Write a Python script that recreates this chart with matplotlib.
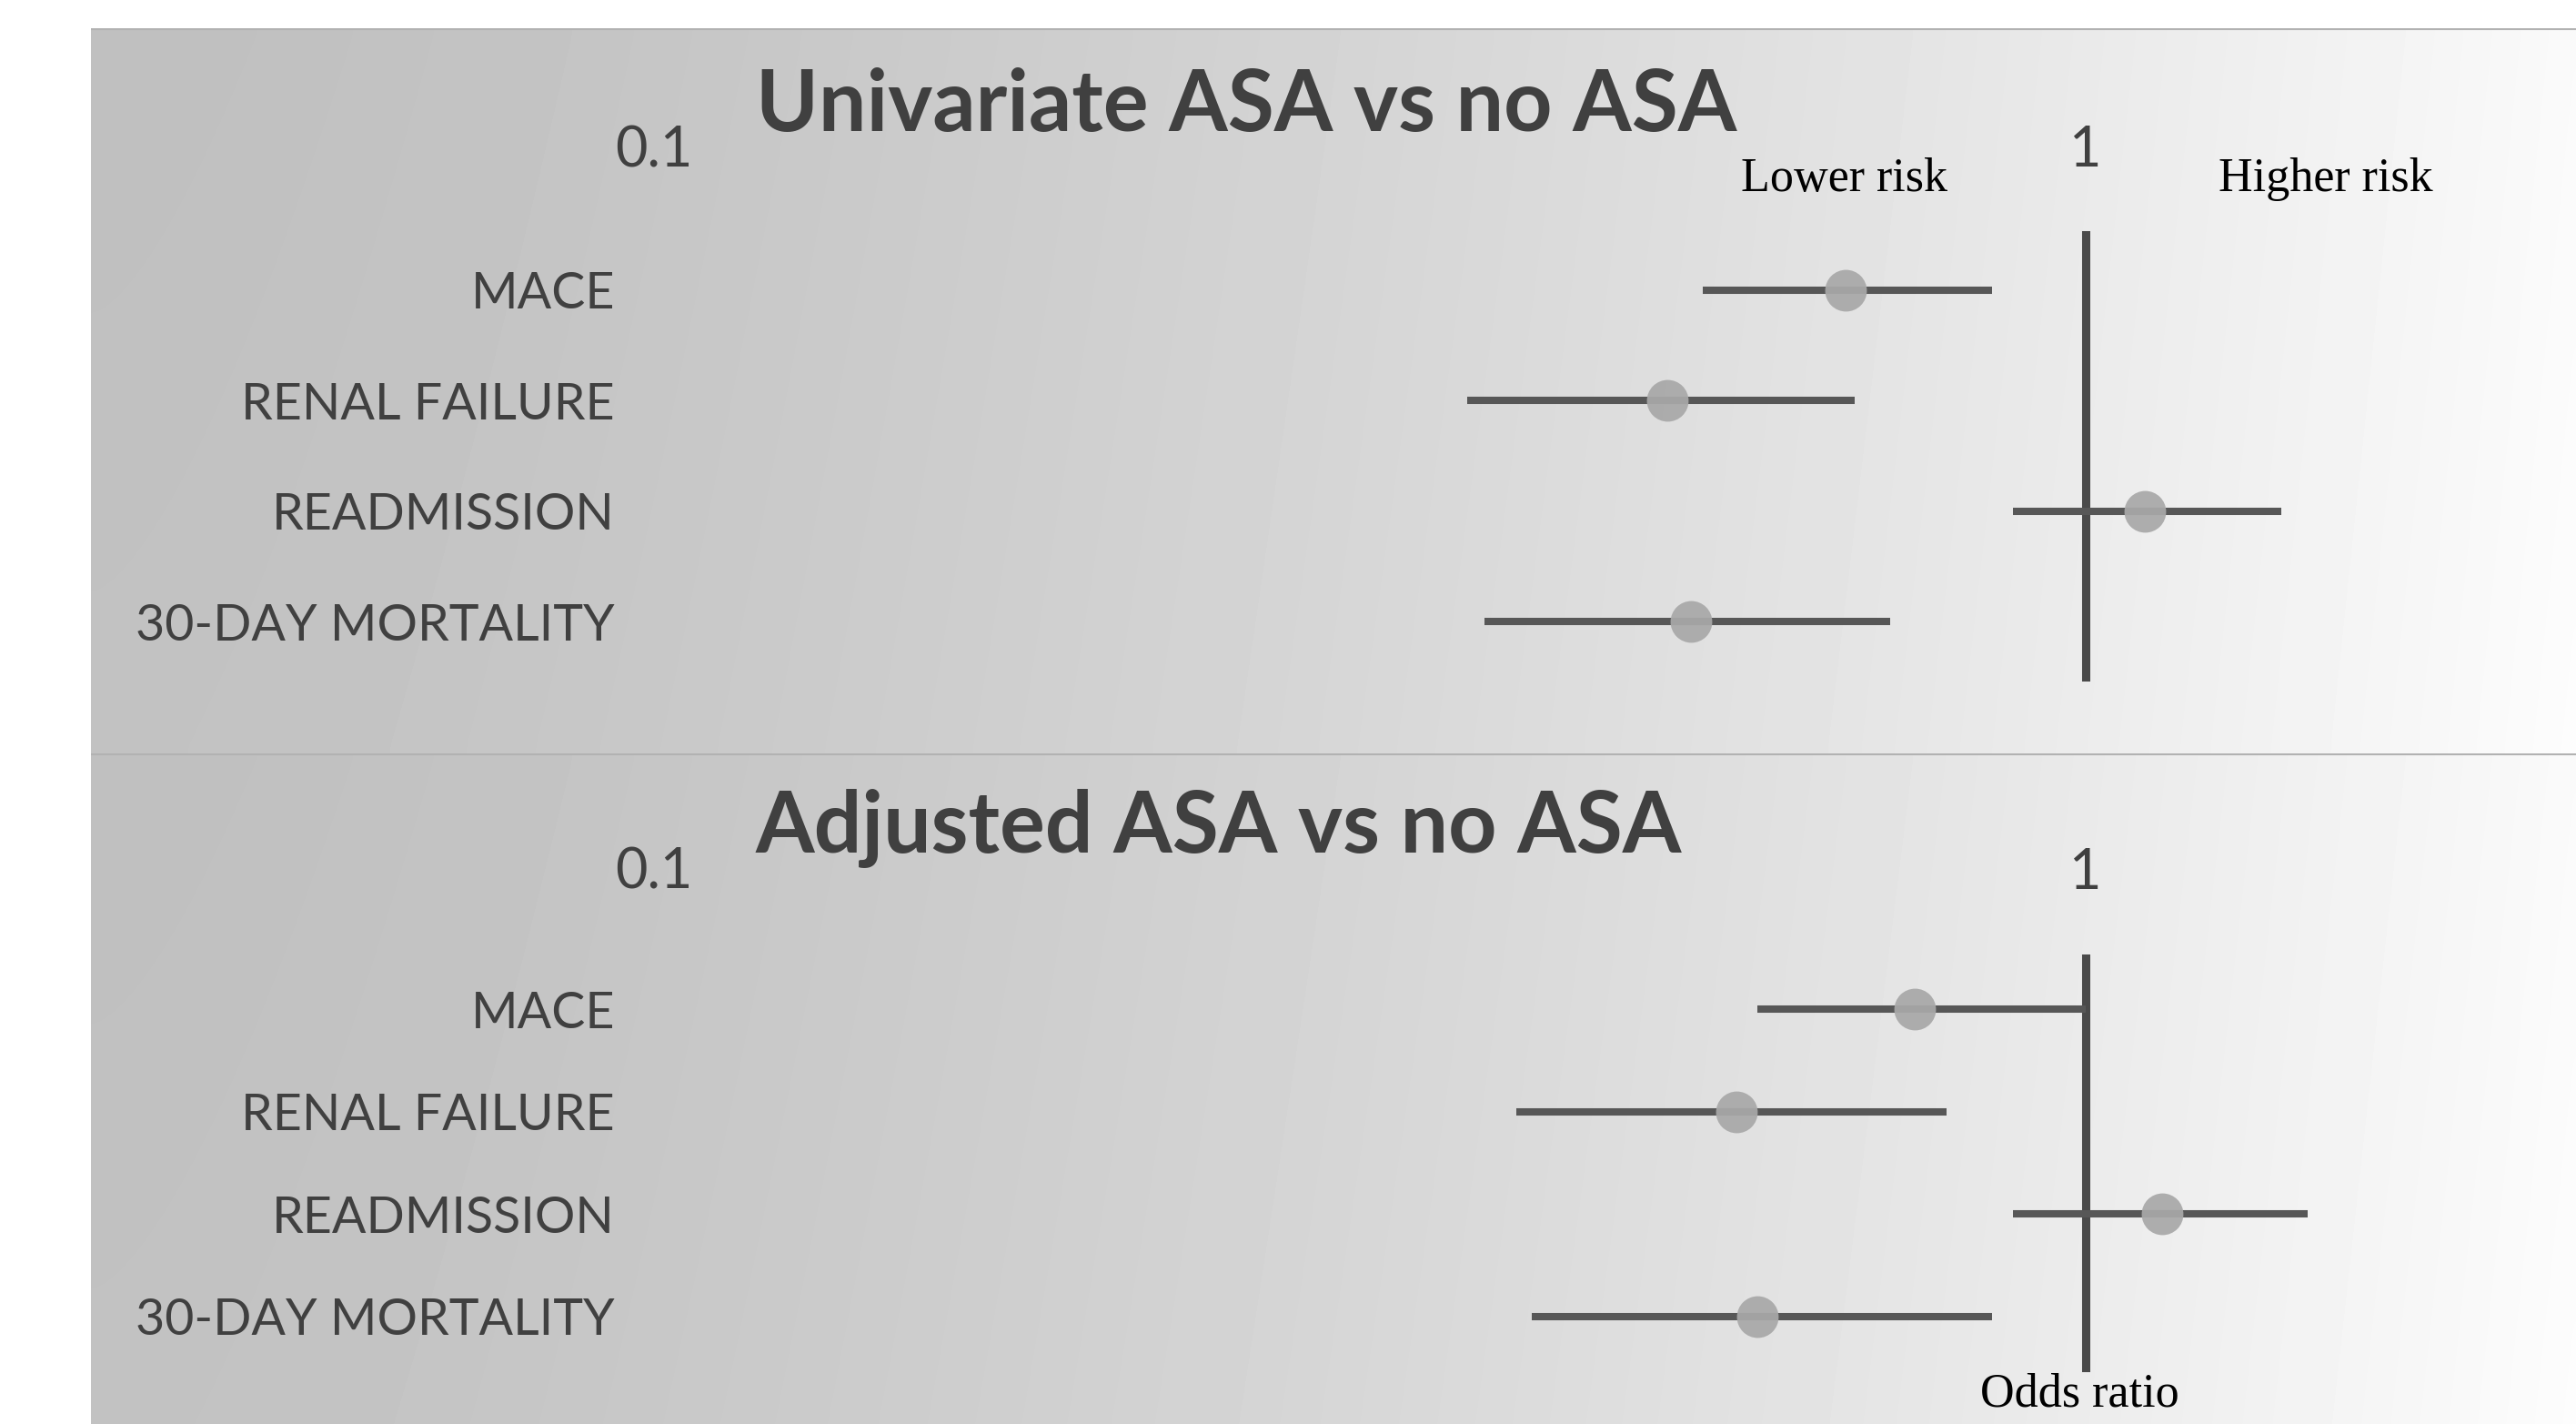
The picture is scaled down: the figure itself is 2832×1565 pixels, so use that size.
import numpy as np
import matplotlib.pyplot as plt
from matplotlib.ticker import NullLocator

# data (odds ratio with 95% CI)
outcomes = ['MACE', 'RENAL FAILURE', 'READMISSION', '30-DAY MORTALITY']

uni_or = [0.68, 0.51, 1.10, 0.53]
uni_lo = [0.54, 0.37, 0.89, 0.38]
uni_hi = [0.86, 0.69, 1.37, 0.73]

adj_or = [0.76, 0.57, 1.13, 0.59]
adj_lo = [0.59, 0.40, 0.89, 0.41]
adj_hi = [1.00, 0.80, 1.43, 0.86]

titles = ['Univariate ASA vs no ASA', 'Adjusted ASA vs no ASA']
xticks = [0.1, 1]
xticklabels = ['0.1', '1']

W, H = 2832, 1565
TXT = '#404040'
LINE = '#575757'
DOT = '#a8a8a8'


def fbox(x0, y0, x1, y1):
    # pixel box (top-left origin) -> figure fraction rect
    return [x0 / W, 1 - y1 / H, (x1 - x0) / W, (y1 - y0) / H]


def background(fig, y0, y1):
    ax = fig.add_axes(fbox(100, y0, W, y1))
    g = np.linspace(0, 1, 600)
    xx, yy = np.meshgrid(g, np.linspace(0, 1, 60))
    v = 0.75 + 0.23 * (xx ** 1.5) + 0.01 * yy
    ax.imshow(v, cmap='gray', vmin=0, vmax=1, aspect='auto',
              extent=[0, 1, 0, 1], interpolation='bicubic')
    ax.axhline(1, color='#b2b2b2', lw=3)
    ax.set_axis_off()


def forest(fig, rect, ors, lo, hi, title, title_y, tick_pad):
    ax = fig.add_axes(rect)
    ax.set_facecolor('none')
    ax.set_xscale('log')
    ax.set_xlim(0.1, 1)
    ax.set_ylim(3.5, -0.5)
    y = np.arange(len(outcomes))
    ax.axvline(1, color='#4a4a4a', lw=6.5, zorder=1, clip_on=False)
    ax.hlines(y, lo, hi, color=LINE, lw=5.8, clip_on=False, zorder=2)
    ax.plot(ors, y, 'o', ms=33, color=DOT, mec='none', alpha=0.93,
            clip_on=False, zorder=3)
    ax.xaxis.tick_top()
    ax.set_xticks(xticks)
    ax.set_xticklabels(xticklabels, family='Lato', fontsize=44, color=TXT)
    ax.xaxis.set_minor_locator(NullLocator())
    ax.set_yticks(y)
    ax.set_yticklabels(outcomes, family='Lato', fontsize=40, color=TXT)
    ax.tick_params(axis='x', length=0, pad=tick_pad)
    ax.tick_params(axis='y', length=0, pad=31)
    for s in ax.spines.values():
        s.set_visible(False)
    fig.text(831 / W, 1 - title_y / H, title, ha='left', va='baseline',
             family='Lato', fontweight='bold', fontsize=67, color=TXT)
    return ax


fig = plt.figure(figsize=(W / 100, H / 100), dpi=100)
fig.patch.set_facecolor('white')

background(fig, 31, 828)
background(fig, 828, H + 20)

forest(fig, fbox(719, 258, 2293, 744), uni_or, uni_lo, uni_hi,
       titles[0], 144, 46)
forest(fig, fbox(719, 1053, 2293, 1503), adj_or, adj_lo, adj_hi,
       titles[1], 937, 47)

serif = dict(family='Liberation Serif', fontsize=37.5, color='black',
             ha='center', va='baseline')
fig.text(2028 / W, 1 - 210 / H, 'Lower risk', **serif)
fig.text(2557 / W, 1 - 210 / H, 'Higher risk', **serif)
fig.text(2286 / W, 1 - 1546 / H, 'Odds ratio', **serif)

fig.savefig('out.png', dpi=100)
